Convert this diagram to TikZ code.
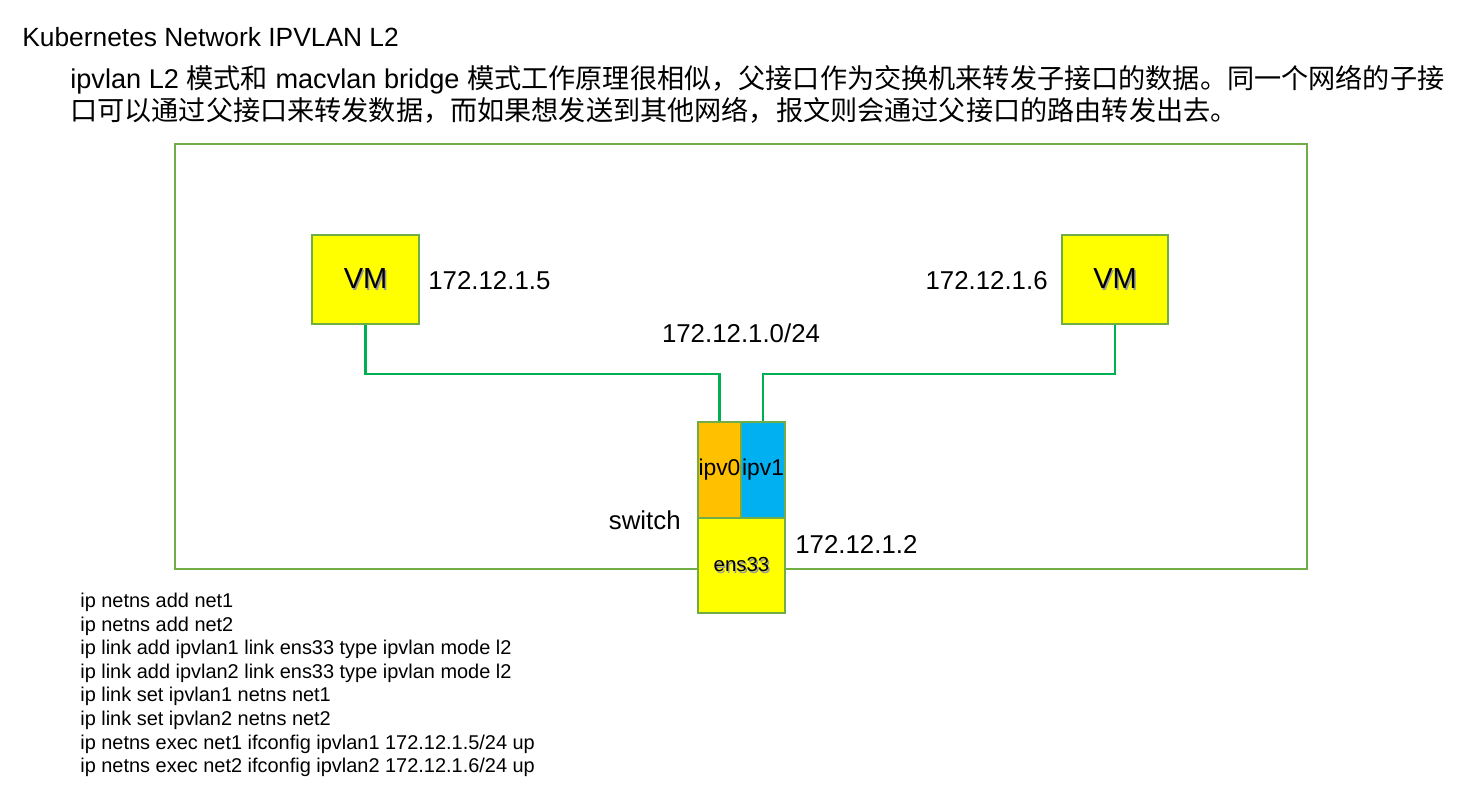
\documentclass[tikz,border=0pt]{standalone}
\usepackage{fontspec}
\setmainfont{Liberation Sans}
\newfontfamily\cjk{Noto Sans CJK SC}
\definecolor{frameGreen}{HTML}{70AD47}
\definecolor{linkGreen}{HTML}{00B050}
\definecolor{vmYellow}{HTML}{FFFF00}
\definecolor{ipvOrange}{HTML}{FFC000}
\definecolor{ipvBlue}{HTML}{00B0F0}
\newcommand{\shtxt}[1]{\makebox[0pt][l]{\hspace{0.8pt}\raisebox{-0.8pt}{\textcolor{black!40}{#1}}}#1}
\tikzset{
  box/.style={draw=frameGreen, line width=1.4pt, inner sep=0pt},
  vmbox/.style={box, fill=vmYellow, minimum width=2.14cm, minimum height=1.78cm,
    font=\fontsize{16.5}{18}\selectfont},
  label/.style={font=\fontsize{14.7}{17}\selectfont, inner sep=0pt},
  link/.style={draw=linkGreen, line width=1.2pt}
}
\begin{document}
\begin{tikzpicture}[x=0.02cm, y=-0.02cm]
  \useasboundingbox (0,0) rectangle (1460,804);
  % heading and description
  \node[anchor=west, inner sep=0pt, font=\fontsize{15}{18}\selectfont] (title) at (22,37)
    {Kubernetes Network IPVLAN L2};
  \node[anchor=west, inner sep=0pt, font=\fontsize{15.45}{18}\selectfont] (descA) at (70,80)
    {ipvlan L2 {\cjk 模式和} macvlan bridge {\cjk 模式工作原理很相似，父接口作为交换机来转发子接口的数据。同一个网络的子接}};
  \node[anchor=west, inner sep=0pt, font=\fontsize{15.45}{18}\selectfont] (descB) at (70,110)
    {\cjk 口可以通过父接口来转发数据，而如果想发送到其他网络，报文则会通过父接口的路由转发出去。};
  % host frame
  \draw[frameGreen, line width=1.1pt] (175,144) rectangle (1307,569);
  % VMs
  \node[vmbox] (vmL) at (365.5,279.5) {\shtxt{VM}};
  \node[vmbox, minimum width=2.12cm] (vmR) at (1115,279.5) {\shtxt{VM}};
  \node[label, anchor=west] (ipL) at (428,281) {172.12.1.5};
  \node[label, anchor=east] (ipR) at (1048,281) {172.12.1.6};
  \node[label] (subnet) at (741,333) {172.12.1.0/24};
  % switch
  \node[box, fill=ipvOrange, minimum width=0.86cm, minimum height=1.92cm,
    font=\fontsize{13}{15}\selectfont] (ipv0) at (719.5,470) {ipv0};
  \node[box, fill=ipvBlue, minimum width=0.88cm, minimum height=1.92cm,
    font=\fontsize{13}{15}\selectfont] (ipv1) at (763,470) {ipv1};
  \node[box, fill=vmYellow, minimum width=1.74cm, minimum height=1.9cm,
    font=\fontsize{11.6}{14}\selectfont] (ens) at (741.5,565.5) {\shtxt{ens33}};
  \node[label, anchor=east] (sw) at (681,520) {switch};
  \node[label, anchor=west] (ipS) at (795,544) {172.12.1.2};
  \begin{scope}[link]
    \draw (vmL.south) -- ++(0,49) -| (ipv0.north);
    \draw (vmR.south) -- ++(0,49) -| (ipv1.north);
  \end{scope}
  % commands
  \node[anchor=west, inner sep=0pt, align=left, font=\fontsize{11.35}{13.4}\selectfont] (cmds) at (80,685)
    {ip netns add net1\\
     ip netns add net2\\
     ip link add ipvlan1 link ens33 type ipvlan mode l2\\
     ip link add ipvlan2 link ens33 type ipvlan mode l2\\
     ip link set ipvlan1 netns net1\\
     ip link set ipvlan2 netns net2\\
     ip netns exec net1 ifconfig ipvlan1 172.12.1.5/24 up\\
     ip netns exec net2 ifconfig ipvlan2 172.12.1.6/24 up};
\end{tikzpicture}
\end{document}
